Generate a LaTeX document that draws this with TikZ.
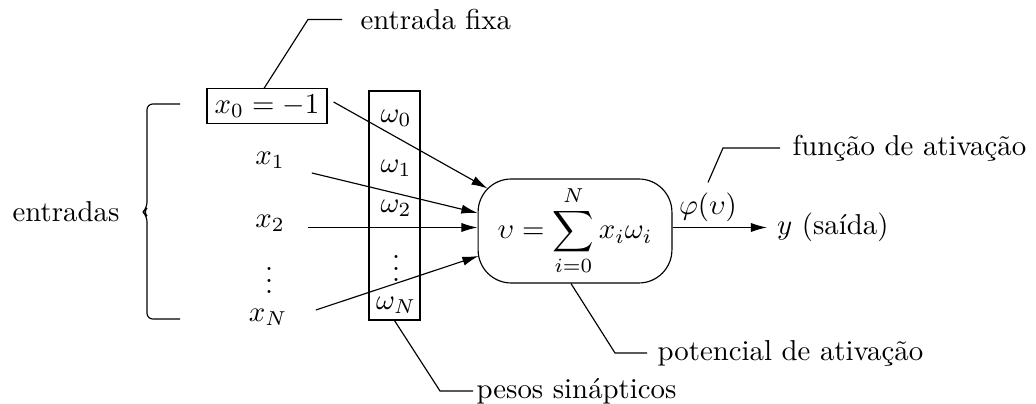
\documentclass[tikz,border=0pt]{standalone}
\usepackage{fontspec}
\usetikzlibrary{arrows.meta,calc}
\begin{document}
\begin{tikzpicture}[x=0.3472pt,y=-0.3472pt,
  arr/.style={-{Latex[length=5.6pt,width=3.2pt]}},
  lbl/.style={anchor=west,inner sep=0pt},
  boxnode/.style={draw,inner sep=0pt}]
\useasboundingbox (0,0) rectangle (1036,404);
% inputs
\node[draw,inner sep=2pt,minimum width=41.7pt,minimum height=11.8pt] (x0) at (267,106) {$x_0=-1$};
\node (x1) at (270,160) {$x_1$};
\node (x2) at (270,223) {$x_2$};
\node (xd) at (269,272) {$\vdots$};
\node (xN) at (268,317) {$x_N$};
% weights
\node[boxnode,minimum width=17.7pt,minimum height=79.5pt] (wbox) at (394.5,205.5) {};
\node (w0) at (396,118) {$\omega_0$};
\node (w1) at (396,168) {$\omega_1$};
\node (w2) at (396,208) {$\omega_2$};
\node (wd) at (396,260) {$\vdots$};
\node (wN) at (396,305) {$\omega_N$};
% neuron
\node[boxnode,rounded corners=11.5pt,minimum width=67.3pt,minimum height=36.1pt] (neuron) at (575,231)
  {$\displaystyle \upsilon=\sum_{i=0}^{N} x_i\omega_i$};
% output
\node[anchor=west] (yout) at (767,227.5) {$y$ (saída)};
\node (phi) at (708,207) {$\varphi(\upsilon)$};
% labels
\node[lbl] (fixa) at (360,19.5) {entrada fixa};
\node[lbl] (func) at (792,148) {função de ativação};
\node[lbl] (pot) at (657,353) {potencial de ativação};
\node[lbl] (pesos) at (476,391) {pesos sinápticos};
\node (ent) at (66,212) {entradas};
% brace
\draw[rounded corners=2pt] (180,104) -- (147,104) -- (147,208) -- (143,212) -- (147,216) -- (147,319) -- (180,319);
% arrows
\draw[arr] ($(x0.east)+(6,-4)$) -- ($(neuron.north west)+(10,10)$);
\draw[arr] ($(x1.east)+(17,13)$) -- ($(neuron.west)+(0,-18)$);
\draw[arr] ($(x2.east)+(13,4.5)$) -- ($(neuron.west)+(0,-3.5)$);
\draw[arr] ($(xN.east)+(18.5,-7)$) -- ($(neuron.west)+(1,25)$);
\draw[arr] (neuron.east |- yout.west) -- (yout.west);
% leaders
\draw ([xshift=-1pt]x0.north) -- ($(fixa.west)+(-52,0)$) -- ($(fixa.west)+(-18,0)$);
\draw (phi.north) -- ($(func.west)+(-69,0)$) -- ($(func.west)+(-12,0)$);
\draw ([xshift=-1.4pt]neuron.south) -- ($(pot.west)+(-42,0)$) -- ($(pot.west)+(-10,0)$);
\draw (wbox.south) -- ($(pesos.west)+(-36,0)$) -- ($(pesos.west)+(-3,0)$);
\end{tikzpicture}
\end{document}
